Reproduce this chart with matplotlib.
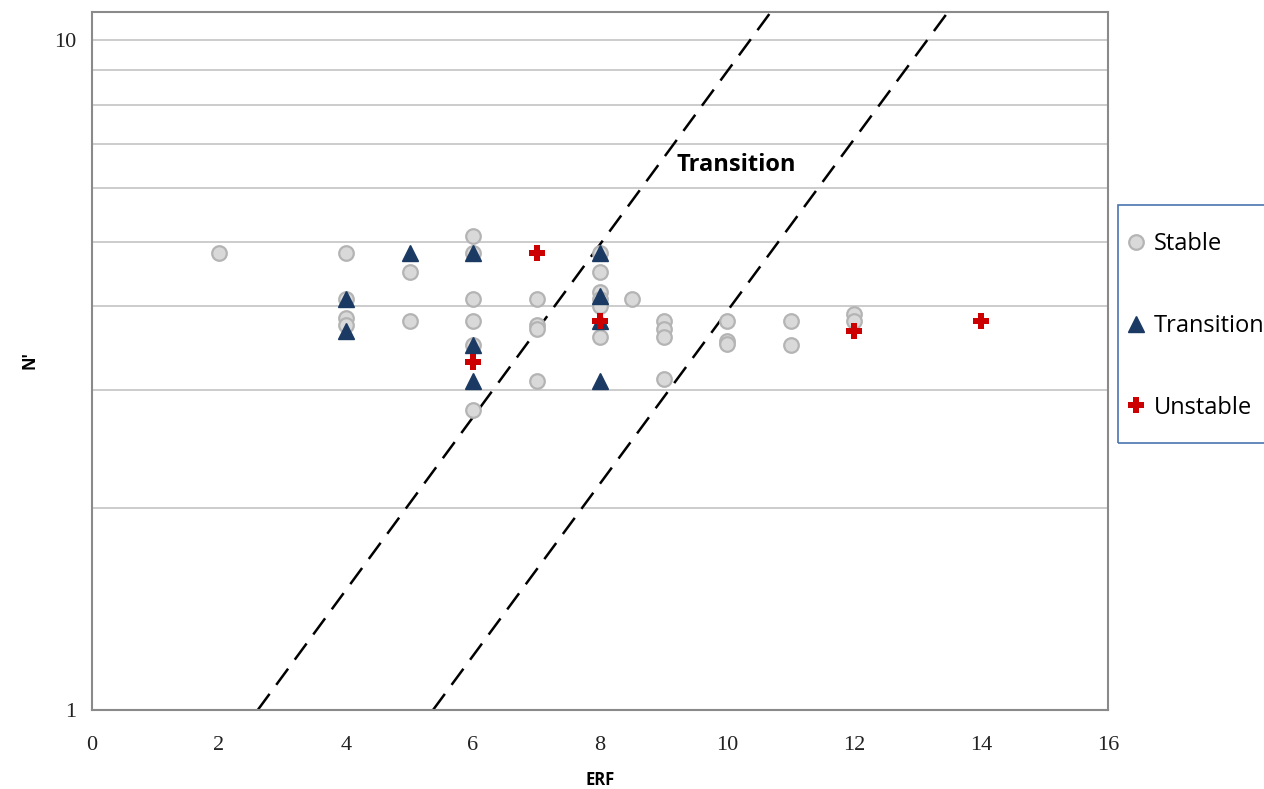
import numpy as np
import matplotlib.pyplot as plt
from matplotlib.patches import Rectangle
from matplotlib.ticker import FixedLocator, NullFormatter, NullLocator

# Data
stable_erf = [2, 4, 4, 4, 4, 5, 5, 6, 6, 6, 6, 6, 6, 7, 7, 7, 7,
              8, 8, 8, 8, 8, 8, 8.5, 9, 9, 9, 9, 10, 10, 10, 11, 11, 12, 12]
stable_n = [4.8, 4.8, 4.1, 3.85, 3.75, 4.5, 3.8, 5.1, 4.8, 4.1, 3.8, 3.5, 2.8,
            4.1, 3.75, 3.7, 3.1, 4.8, 4.5, 4.2, 4.1, 4.0, 3.6, 4.1,
            3.8, 3.7, 3.6, 3.12, 3.8, 3.55, 3.52, 3.8, 3.5, 3.9, 3.8]

trans_erf = [4, 4, 5, 6, 6, 6, 8, 8, 8, 8]
trans_n = [4.1, 3.68, 4.8, 4.8, 3.5, 3.1, 4.8, 4.15, 3.8, 3.1]

unst_erf = [7, 8, 6, 12, 14]
unst_n = [4.8, 3.8, 3.3, 3.68, 3.8]

# boundary lines of the transition band (end points)
line1_erf = [2.61, 10.69]
line2_erf = [5.37, 13.48]
line_n = [1, 11]

W, H = 1264, 789
fig = plt.figure(figsize=(W / 100, H / 100), dpi=100)
ax = fig.add_axes([92 / W, 1 - 710 / H, (1108 - 92) / W, (710 - 12) / H])

ax.set_yscale('log')
ax.set_xlim(0, 16)
ax.set_ylim(1, 11)

# horizontal gridlines at 2..10
for v in range(2, 11):
    ax.axhline(v, color='#c4c4c4', lw=1.2, zorder=0)

ax.plot(line1_erf, line_n, color='black', lw=1.8, dashes=(8, 4.5), zorder=2)
ax.plot(line2_erf, line_n, color='black', lw=1.8, dashes=(8, 4.5), zorder=2)

ax.plot(stable_erf, stable_n, 'o', ms=10.5, mfc='#d9d9d9', mec='#b4b4b4', mew=1.6,
        label='Stable', zorder=3)
ax.plot(trans_erf, trans_n, '^', ms=12, mfc='#1b3a63', mec='#1b3a63',
        label='Transition', zorder=4)
ax.plot(unst_erf, unst_n, 'P', ms=11, mfc='#cc0000', mec='#cc0000', mew=0,
        label='Unstable', zorder=5)

ax.text(9.2, 6.5, 'Transition', fontsize=17, fontweight='bold',
        family='Open Sans', va='center', ha='left')

ax.xaxis.set_major_locator(FixedLocator(range(0, 17, 2)))
ax.yaxis.set_major_locator(FixedLocator([1, 10]))
ax.yaxis.set_minor_locator(NullLocator())
ax.yaxis.set_minor_formatter(NullFormatter())
ax.set_yticklabels(['1', '10'])
ax.tick_params(length=0, labelsize=16, labelcolor='#222222')
ax.tick_params(axis='x', pad=19)
ax.tick_params(axis='y', pad=11)
for lab in ax.get_xticklabels() + ax.get_yticklabels():
    lab.set_family('Liberation Serif')

for s in ax.spines.values():
    s.set_color('#8a8a8a')
    s.set_linewidth(1.5)

fig.text(600 / W, 1 - 780 / H, 'ERF', fontsize=12, fontweight='bold',
         family='Open Sans', ha='center', va='center')
fig.text(30 / W, 1 - 360 / H, "N'", fontsize=12, fontweight='bold',
         family='Open Sans', ha='center', va='center', rotation=90)

# legend box (runs off the right edge like the original)
fig.patches.append(Rectangle((1118 / W, 1 - 443 / H), 180 / W, 238 / H,
                             transform=fig.transFigure, fill=False,
                             edgecolor='#4a74b0', lw=1.2))
leg = fig.legend(loc='upper left', bbox_to_anchor=(1127 / W, 1 - 232 / H),
                 frameon=False, labelspacing=2.45, handlelength=0.8,
                 handletextpad=0.35, borderpad=0, borderaxespad=0,
                 prop={'family': 'Open Sans', 'size': 17})

fig.savefig('out.png', dpi=100)
